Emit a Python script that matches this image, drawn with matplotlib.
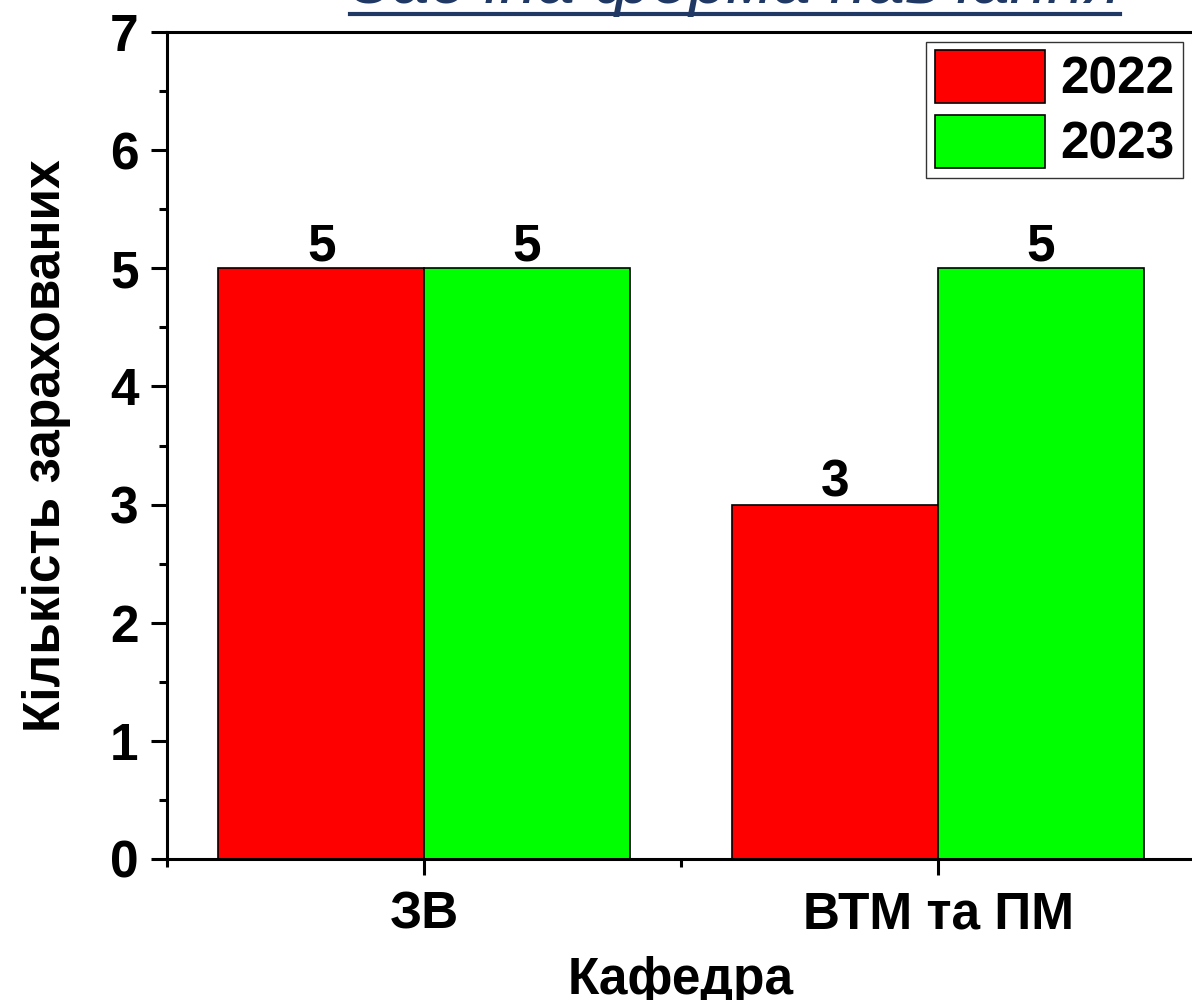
import matplotlib
matplotlib.use('Agg')
import matplotlib.pyplot as plt
from matplotlib.lines import Line2D
from matplotlib.ticker import FixedLocator
import numpy as np

plt.rcParams['font.family'] = ['Liberation Sans', 'DejaVu Sans']

# ── Data ──────────────────────────────────────────────────────────────────────
departments = ['ЗВ', 'ВТМ та ПМ']
years = ['2022', '2023']
enrolled_2022 = [5, 3]
enrolled_2023 = [5, 5]

RED = '#FF0000'
GREEN = '#00FF00'
NAVY = '#203864'
FS = 37
BAR_W = 0.4

fig = plt.figure(figsize=(11.92, 10), dpi=100)
ax = fig.add_axes([167 / 1192, 0.141, 1028 / 1192, 0.827])

x = np.arange(1, len(departments) + 1)
b1 = ax.bar(x - BAR_W / 2, enrolled_2022, BAR_W, color=RED,
            edgecolor='black', linewidth=1.2, label=years[0])
b2 = ax.bar(x + BAR_W / 2, enrolled_2023, BAR_W, color=GREEN,
            edgecolor='black', linewidth=1.2, label=years[1])
for bars in (b1, b2):
    ax.bar_label(bars, labels=[f'{v:g}' for v in bars.datavalues],
                 padding=-2, fontsize=FS, fontweight='bold')

ax.set_xlim(0.5, len(departments) + 0.5)
ax.set_ylim(0, 7)
ax.set_xticks(x)
ax.set_xticklabels(departments)
ax.xaxis.set_minor_locator(FixedLocator(np.arange(0.5, len(departments) + 1, 1.0)))
ax.set_yticks(np.arange(0, 8, 1))
ax.yaxis.set_minor_locator(FixedLocator(np.arange(0.5, 7, 1.0)))

ax.tick_params(which='major', direction='out', length=11.5, width=2.2,
               labelsize=FS, pad=9)
ax.tick_params(which='minor', direction='out', length=5.5, width=2.2)
ax.tick_params(axis='x', which='major', pad=11)
ax.tick_params(top=False, right=False, which='both')
for lab in ax.get_xticklabels() + ax.get_yticklabels():
    lab.set_fontweight('bold')

for spine in ax.spines.values():
    spine.set_linewidth(2.2)

ax.set_xlabel('Кафедра', fontsize=FS, fontweight='bold', labelpad=12)
ax.set_ylabel('Кількість зарахованих', fontsize=FS, fontweight='bold', labelpad=28)

leg = ax.legend(loc='upper right', bbox_to_anchor=(1183 / 1192, 1 - 42 / 1000),
                bbox_transform=fig.transFigure, borderaxespad=0,
                prop={'weight': 'bold', 'size': FS},
                handlelength=2.15, handleheight=1.2, labelspacing=0.2,
                handletextpad=0.3, borderpad=0.16, fancybox=False,
                framealpha=1)
leg.get_frame().set_edgecolor('#333333')
leg.get_frame().set_linewidth(1.0)

# heading above the chart, underlined
title = fig.text(0.6166, 0.997, 'Заочна форма навчання', fontsize=49,
                 style='italic', color=NAVY, ha='center', va='baseline')
fig.canvas.draw()
bb = title.get_window_extent().transformed(fig.transFigure.inverted())
fig.add_artist(Line2D([bb.x0, bb.x1], [1 - 14 / 1000] * 2,
                      transform=fig.transFigure, color=NAVY, linewidth=3))

fig.savefig('out.png', dpi=100)
